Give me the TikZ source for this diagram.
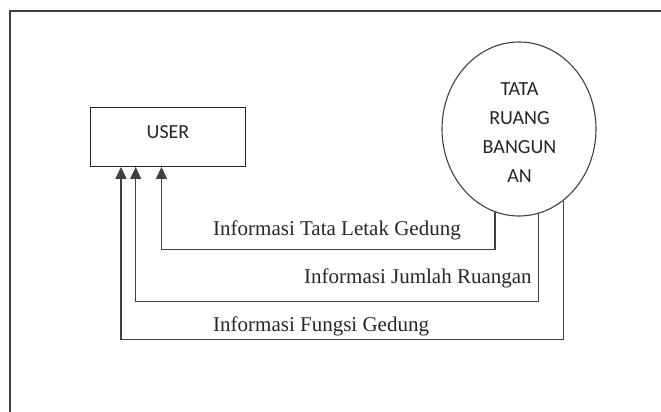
\documentclass[tikz,border=0pt]{standalone}
\usepackage{fontspec}
\setmainfont{Liberation Serif}
\newfontfamily\boxfont{Carlito}
\usetikzlibrary{arrows.meta,shapes.geometric}
\begin{document}
\begin{tikzpicture}[x=1pt,y=-1pt,
  frameline/.style={draw=black!75, line width=1.3pt},
  flow/.style={draw=black!75, line width=1.3pt, -{Triangle[width=11pt,length=12pt]}},
  entity/.style={rectangle, draw=black!85, line width=1.3pt, minimum width=155pt, minimum height=58.6pt, inner sep=0pt},
  proc/.style={ellipse, draw=black!75, line width=1.1pt, minimum width=154pt, minimum height=174pt, inner sep=0pt},
  sanslbl/.style={font=\boxfont\fontsize{20}{29}\selectfont, align=center, inner sep=0pt, text=black!85},
  flowlbl/.style={font=\fontsize{21}{25}\selectfont, inner sep=0pt, anchor=base west, text=black!85}]
\useasboundingbox (0,0) rectangle (661,412);
\draw[frameline] (10,412) -- (10,11) -- (661,11);
\node[entity] (user) at (168.2,137) {};
\node[sanslbl] (usert) at (168,132.5) {USER};
\node[proc] (tata) at (519,129) {};
\node[sanslbl] (tatat) at (519.5,132.5) {TATA\\RUANG\\BANGUN\\AN};
\coordinate (k1) at (161.5,249.3);
\coordinate (k2) at (135.7,301.7);
\coordinate (k3) at (121,339.3);
\draw[flow] (tata.254) |- (k1) -- (k1 |- user.south);
\draw[flow] (tata.283.6) |- (k2) -- (k2 |- user.south);
\draw[flow] (tata.302.5) |- (k3) -- (k3 |- user.south);
\node[flowlbl] (l1) at (213,235) {Informasi Tata Letak Gedung};
\node[flowlbl] (l2) at (304,283) {Informasi Jumlah Ruangan};
\node[flowlbl] (l3) at (213,331) {Informasi Fungsi Gedung};
\end{tikzpicture}
\end{document}
